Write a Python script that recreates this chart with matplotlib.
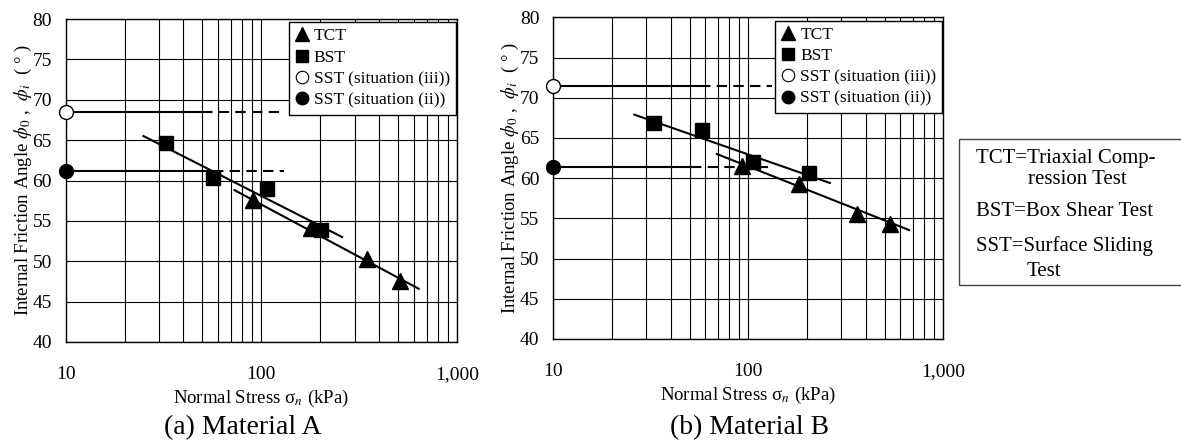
import matplotlib.pyplot as plt
from matplotlib.lines import Line2D
from matplotlib.patches import Rectangle

plt.rcParams['font.family'] = ['Liberation Serif', 'DejaVu Serif']
plt.rcParams['mathtext.fontset'] = 'stix'

# ---- Material A ----
tct_a_x = [90.6, 180, 347, 514]
tct_a_y = [57.6, 54.1, 50.3, 47.5]
bst_a_x = [32.7, 56.6, 107, 202]
bst_a_y = [64.6, 60.3, 58.9, 53.9]
sst3_a = 68.5
sst2_a = 61.2
sst3_a_solid = 50
sst2_a_solid = 56.5
sst3_a_dash = 131
sst2_a_dash = 131
tct_a_line_x = [73, 637]
tct_a_line_y = [58.8, 46.6]
bst_a_line_x = [25, 259]
bst_a_line_y = [65.5, 53.0]

# ---- Material B ----
tct_b_x = [92.5, 183, 360, 533]
tct_b_y = [61.5, 59.3, 55.5, 54.3]
bst_b_x = [33, 57.7, 106, 205]
bst_b_y = [66.9, 66.0, 62.0, 60.7]
sst3_b = 71.5
sst2_b = 61.4
sst3_b_solid = 56.5
sst2_b_solid = 50.7
sst3_b_dash = 132
sst2_b_dash = 129
tct_b_line_x = [69, 667]
tct_b_line_y = [63.0, 53.55]
bst_b_line_x = [26, 262]
bst_b_line_y = [67.9, 59.4]

x_ticks = [10, 100, 1000]
x_tick_labels = ['10', '100', '1,000']
minor_x = [20, 30, 40, 50, 60, 70, 80, 90, 200, 300, 400, 500, 600, 700, 800, 900]
y_ticks = [40, 45, 50, 55, 60, 65, 70, 75, 80]


def draw_panel(ax, tct_x, tct_y, bst_x, bst_y, sst3, sst2,
               sst3_solid, sst2_solid, sst3_dash, sst2_dash,
               tct_lx, tct_ly, bst_lx, bst_ly):
    ax.set_xscale('log')
    ax.set_xlim(10, 1000)
    ax.set_ylim(40, 80)
    ax.set_xticks(x_ticks)
    ax.set_xticklabels(x_tick_labels)
    ax.set_xticks(minor_x, minor=True)
    ax.set_xticklabels([], minor=True)
    ax.set_yticks(y_ticks)
    ax.tick_params(axis='both', which='both', length=0, labelsize=14)
    ax.tick_params(axis='x', pad=17)
    ax.tick_params(axis='y', pad=10)
    ax.grid(True, which='both', color='black', lw=0.8)
    ax.set_axisbelow(True)
    for s in ax.spines.values():
        s.set_linewidth(1.0)
        s.set_color('black')

    # SST horizontal reference lines
    ax.plot([10, sst3_solid], [sst3, sst3], color='black', lw=1.5, zorder=3)
    ax.plot([sst3_solid, sst3_dash], [sst3, sst3], color='black', lw=1.5,
            ls=(0, (5, 3)), zorder=3)
    ax.plot([10, sst2_solid], [sst2, sst2], color='black', lw=1.5, zorder=3)
    ax.plot([sst2_solid, sst2_dash], [sst2, sst2], color='black', lw=1.5,
            ls=(0, (5, 3)), zorder=3)

    # trend lines
    ax.plot(bst_lx, bst_ly, color='black', lw=1.5, zorder=3)
    ax.plot(tct_lx, tct_ly, color='black', lw=1.5, zorder=3)

    # data points
    ax.plot(tct_x, tct_y, '^', color='black', ms=11, ls='none', zorder=4)
    ax.plot(bst_x, bst_y, 's', color='black', ms=10, ls='none', zorder=4)
    ax.plot([10], [sst3], 'o', mfc='white', mec='black', mew=1, ms=10,
            clip_on=False, zorder=5)
    ax.plot([10], [sst2], 'o', color='black', ms=10, clip_on=False, zorder=5)

    handles = [
        Line2D([], [], marker='^', color='black', ls='none', ms=10),
        Line2D([], [], marker='s', color='black', ls='none', ms=9),
        Line2D([], [], marker='o', mfc='white', mec='black', mew=0.8, ls='none', ms=9),
        Line2D([], [], marker='o', color='black', ls='none', ms=9),
    ]
    labels = ['TCT', 'BST', 'SST (situation (iii))', 'SST (situation (ii))']
    leg = ax.legend(handles, labels, loc='upper right', bbox_to_anchor=(0.998, 0.99),
                    borderaxespad=0, fontsize=12.5, handlelength=0.8,
                    handletextpad=0.3, labelspacing=0.3, borderpad=0.35,
                    fancybox=False, framealpha=1, edgecolor='black')
    leg.get_frame().set_linewidth(1.0)
    leg.set_zorder(6)

    ax.set_xlabel(r'Normal Stress σ$_{n}$ (kPa)', fontsize=13.5, labelpad=4)
    ax.set_ylabel(r'Internal Friction Angle $\phi_0$ ,  $\phi_i$  ( ° )',
                  fontsize=13.5, labelpad=-1)


fig = plt.figure(figsize=(11.81, 4.41), dpi=100)
ax_a = fig.add_axes([0.0556, 0.2245, 0.3313, 0.7324])
ax_b = fig.add_axes([0.4685, 0.2313, 0.3302, 0.7295])

draw_panel(ax_a, tct_a_x, tct_a_y, bst_a_x, bst_a_y, sst3_a, sst2_a,
           sst3_a_solid, sst2_a_solid, sst3_a_dash, sst2_a_dash,
           tct_a_line_x, tct_a_line_y, bst_a_line_x, bst_a_line_y)
draw_panel(ax_b, tct_b_x, tct_b_y, bst_b_x, bst_b_y, sst3_b, sst2_b,
           sst3_b_solid, sst2_b_solid, sst3_b_dash, sst2_b_dash,
           tct_b_line_x, tct_b_line_y, bst_b_line_x, bst_b_line_y)

# captions
fig.text(243 / 1181, 1 - 428 / 441, '(a) Material A', fontsize=20,
         ha='center', va='center')
fig.text(750 / 1181, 1 - 428 / 441, '(b) Material B', fontsize=20,
         ha='center', va='center')

# abbreviation box
W, H = 1181, 441
fig.patches.append(Rectangle((959 / W, 1 - 285 / H), 230 / W, 146 / H,
                             transform=fig.transFigure, fill=False,
                             edgecolor='#444444', lw=1.0))
box_lines = [
    (976, 158, 'TCT=Triaxial Comp-'),
    (1028, 180, 'ression Test'),
    (976, 212, 'BST=Box Shear Test'),
    (976, 246, 'SST=Surface Sliding'),
    (1027, 271, 'Test'),
]
for bx, by, txt in box_lines:
    fig.text(bx / W, 1 - by / H, txt, fontsize=15, ha='left', va='center')

fig.savefig('out.png', dpi=100)
